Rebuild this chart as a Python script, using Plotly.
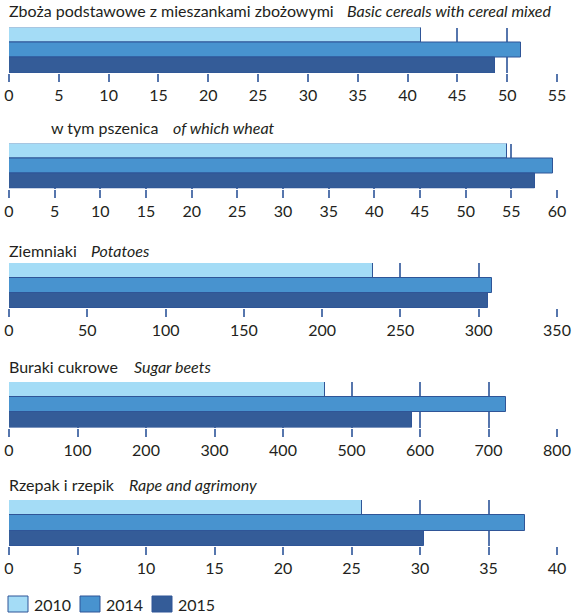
import plotly.graph_objects as go

# Crops (Polish / English names)
crops_pl = ["Zboża podstawowe z mieszankami zbożowymi", "w tym pszenica",
            "Ziemniaki", "Buraki cukrowe", "Rzepak i rzepik"]
crops_en = ["Basic cereals with cereal mixed", "of which wheat",
            "Potatoes", "Sugar beets", "Rape and agrimony"]

years = ["2010", "2014", "2015"]
v2010 = [41.4, 54.5, 232.5, 461, 25.8]
v2014 = [51.4, 59.6, 308.5, 726, 37.7]
v2015 = [48.8, 57.6, 306.0, 588, 30.3]

axis_max = [55, 60, 350, 800, 40]
tick_step = [5, 5, 50, 100, 5]

colors = {"2010": "#a4dcf6", "2014": "#4893cf", "2015": "#345c98"}
edge = "#2f5597"
grid = "#5676ad"
FONT = "Lato"
FS = 16

W, H = 574, 613
x_left, x_right = 9, 557
# pixel top / bottom of each panel's bar block
panel_px = [(27.5, 73), (143.5, 188.5), (263, 308), (382, 427.5), (500, 546)]
title_px = [11, 128, 250, 366, 484]
title_x = [(7, 345), (49, 171), (7, 89), (7, 132), (7, 127)]

series = {"2010": v2010, "2014": v2014, "2015": v2015}

fig = go.Figure()
layout = dict(
    width=W, height=H, margin=dict(l=0, r=0, t=0, b=0, autoexpand=False),
    paper_bgcolor="white", plot_bgcolor="white",
    barmode="group", bargap=0, bargroupgap=0,
    showlegend=False, font=dict(family=FONT, size=FS, color="#231f20"),
    annotations=[], shapes=[],
)

for i in range(5):
    n = "" if i == 0 else str(i + 1)
    for yr in years:
        fig.add_trace(go.Bar(
            x=[series[yr][i]], y=[crops_en[i]], orientation="h", name=yr,
            marker=dict(color=colors[yr], line=dict(color=edge, width=1)),
            xaxis="x" + n, yaxis="y" + n,
        ))
    top, bot = panel_px[i]
    layout["xaxis" + n] = dict(
        domain=[x_left / W, x_right / W], anchor="y" + n, automargin=False,
        range=[0, axis_max[i]], tick0=0, dtick=tick_step[i],
        showgrid=True, gridcolor=grid, gridwidth=1.5, zeroline=False,
        showline=False, ticks="outside", ticklen=8, tickwidth=1.5, tickcolor=grid,
        tickfont=dict(family=FONT, size=FS, color="#231f20"),
    )
    layout["yaxis" + n] = dict(
        domain=[1 - bot / H, 1 - top / H], anchor="x" + n, automargin=False,
        type="category", range=[0.5, -0.5], showticklabels=False,
        showgrid=False, zeroline=False, showline=False,
    )
    layout["annotations"].append(dict(
        text=crops_pl[i], xref="paper", yref="paper",
        x=title_x[i][0] / W, y=1 - title_px[i] / H, xanchor="left", yanchor="middle",
        showarrow=False, font=dict(family=FONT, size=FS, color="#231f20"),
    ))
    layout["annotations"].append(dict(
        text="<i>" + crops_en[i] + "</i>", xref="paper", yref="paper",
        x=title_x[i][1] / W, y=1 - title_px[i] / H, xanchor="left", yanchor="middle",
        showarrow=False, font=dict(family=FONT, size=FS, color="#231f20"),
    ))

# legend keys
key_x = [8, 80, 152]
for yr, kx in zip(years, key_x):
    layout["shapes"].append(dict(
        type="rect", xref="paper", yref="paper",
        x0=kx / W, x1=(kx + 20) / W, y0=1 - 612 / H, y1=1 - 596 / H,
        fillcolor=colors[yr], line=dict(color=edge, width=1),
    ))
    layout["annotations"].append(dict(
        text=yr, xref="paper", yref="paper", x=(kx + 24) / W, y=1 - 604 / H,
        xanchor="left", yanchor="middle", showarrow=False,
        font=dict(family=FONT, size=FS, color="#231f20"),
    ))

fig.update_layout(**layout)
fig.write_html("out.html")
